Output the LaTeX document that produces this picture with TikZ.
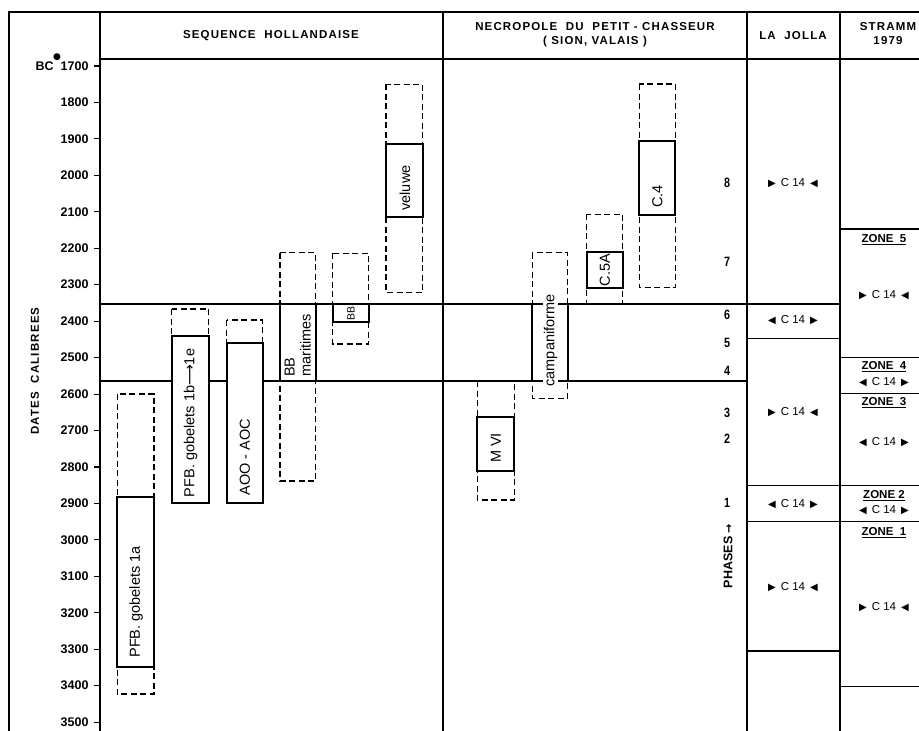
\documentclass[tikz,border=0pt]{standalone}
\usepackage{fontspec}
\setmainfont{Liberation Sans}
\newfontfamily\djf{DejaVu Sans}
\newcommand\hdrfont{\fontsize{11.5}{14}\selectfont\bfseries\addfontfeature{LetterSpace=10}}
\newcommand\numfont{\fontsize{12.5}{14}\selectfont\bfseries}
\newcommand\lblfont{\fontsize{14.5}{16}\selectfont}
\newcommand\cfont{\fontsize{11.5}{13}\selectfont}
\newcommand\trR{{\djf\fontsize{10}{10}\selectfont ▶}}
\newcommand\trL{{\djf\fontsize{10}{10}\selectfont ◀}}
\newcommand\cRL{\trR\hspace{5pt}C 14\hspace{5pt}\trL}
\newcommand\cLR{\trL\hspace{5pt}C 14\hspace{5pt}\trR}
\begin{document}
\begin{tikzpicture}[x=1pt,y=-1pt,
  frame/.style={line width=1.1pt},
  hline/.style={line width=1.7pt},
  sol/.style={draw, line width=1.9pt, fill=white},
  dsh/.style={draw, line width=1.3pt, dash pattern=on 6pt off 3.5pt},
  lbl/.style={font=\lblfont, rotate=90, fill=white, inner sep=1pt},
  hdr/.style={font=\hdrfont, align=center},
  yr/.style={font=\numfont, anchor=east},
  ph/.style={font=\fontsize{13.5}{14}\selectfont\bfseries, xscale=0.8},
  c14/.style={font=\cfont},
  zone/.style={font=\cfont\bfseries}]
\useasboundingbox (0,0) rectangle (919,731);
% frame
\draw[frame] (9,731) -- (9,12) -- (919,12);
\draw[frame] (100,12) -- (100,731);
\draw[frame] (443,12) -- (443,731);
\draw[frame] (747,12) -- (747,731);
\draw[frame] (840,12) -- (840,731);
\draw[frame] (100,59) -- (919,59);
% headers
\node[hdr] (hSeq) at (271,36) {SEQUENCE\ \ HOLLANDAISE};
\node[hdr] (hNec) at (595,35) {NECROPOLE\ \ DU\ \ PETIT - CHASSEUR\\( SION, VALAIS )};
\node[hdr] (hLJ) at (793,36) {LA\ \ JOLLA};
\node[hdr] (hSt) at (888,34) {STRAMM\\1979};
% axis ticks and labels
\foreach \yv [count=\i from 0] in {1700,1800,...,3500} {
  \pgfmathsetmacro\yy{66+\i*36.45}
  \draw[frame] (94,\yy) -- (100,\yy);
  \node[yr] (y\yv) at (92,\yy) {\yv};
}
\node[font=\numfont, anchor=east] (bc) at (y1700.west) {BC};
\node[font=\djf\fontsize{9}{9}\selectfont, inner sep=0pt] (bcstar) at (57,57) {●};
\node[hdr, rotate=90] (dates) at (35,371) {DATES\ \ CALIBREES};
% main horizontal lines
\draw[hline] (100,304) -- (840,304);
\draw[hline] (100,381) -- (747,381);
% La Jolla
\foreach \yy in {338.7,485.7,521.7,651} \draw[frame] (747,\yy) -- (840,\yy);
\node[c14] (lj8) at (793,182.7) {\cRL};
\node[c14] (lj6) at (793,320) {\cLR};
\node[c14] (lj3) at (793,411.7) {\cRL};
\node[c14] (lj1) at (793,504) {\cLR};
\node[c14] (lj0) at (793,587) {\cRL};
% Stramm
\foreach \yy in {229,357.5,393.3,485.7,521.7,686.7} \draw[frame] (840,\yy) -- (919,\yy);
\node[zone] (z5) at (884,240) {\underline{ZONE\ \ 5}};
\node[c14] (s5) at (884,295) {\cRL};
\node[zone] (z4) at (884,366.5) {\underline{ZONE\ \ 4}};
\node[c14] (s4) at (884,382.5) {\cLR};
\node[zone] (z3) at (884,403) {\underline{ZONE\ \ 3}};
\node[c14] (s3) at (884,442) {\cLR};
\node[zone] (z2) at (884,495.5) {\underline{ZONE 2}};
\node[c14] (s2) at (884,510) {\cLR};
\node[zone] (z1) at (884,533) {\underline{ZONE\ \ 1}};
\node[c14] (s1) at (884,606.7) {\cRL};
% phases
\node[ph] (p8) at (727,183) {8};
\node[ph] (p7) at (727,261.7) {7};
\node[ph] (p6) at (727,315) {6};
\node[ph] (p5) at (727,342.7) {5};
\node[ph] (p4) at (727,371) {4};
\node[ph] (p3) at (727,412.7) {3};
\node[ph] (p2) at (727,439) {2};
\node[ph] (p1) at (727,503.3) {1};
\node[font=\numfont, rotate=90] (phases) at (728,556) {PHASES {\djf\bfseries\fontsize{11}{11}\selectfont →}};
% dashed ranges
\draw[dsh] (117.3,394) rectangle (154,694);
\draw[dsh] (171.7,309) rectangle (208.7,502.7);
\draw[dsh] (226.7,320) rectangle (262.7,503.3);
\draw[dsh] (280,252.7) rectangle (315.7,481);
\draw[dsh] (332.7,253.3) rectangle (368.7,344);
\draw[dsh] (386,84.3) rectangle (422.7,292.3);
\draw[dsh] (477.3,381) rectangle (514.3,500);
\draw[dsh] (532.3,252.7) rectangle (567.7,398.3);
\draw[dsh] (586.7,214.3) rectangle (622.7,304);
\draw[dsh] (639.3,84) rectangle (675.3,287.7);
% solid ranges
\draw[sol] (117.3,497.3) rectangle (154,666.7);
\draw[sol] (171.7,336) rectangle (208.7,502.7);
\draw[sol] (226.7,342.7) rectangle (262.7,503.3);
\draw[sol] (280,304) rectangle (315.7,381);
\draw[sol] (332.7,304) rectangle (368.7,322.3);
\draw[sol] (386,144.3) rectangle (422.7,216.7);
\draw[sol] (477.3,416.7) rectangle (514.3,471);
\draw[sol] (532.3,304) rectangle (567.7,381);
\draw[sol] (586.7,251.7) rectangle (622.7,288.3);
\draw[sol] (639.3,141) rectangle (675.3,215.3);
% labels
\node[lbl] (lPFBa) at (136,602) {PFB.\ gobelets 1a};
\node[lbl] (lPFBb) at (190.5,423) {PFB.\ gobelets 1b{\djf ⟶}1e};
\node[lbl] (lAOO) at (245,457) {AOO - AOC};
\node[lbl, align=left, anchor=south west, fill=none] (lBBm) at (312,378) {BB\\maritimes};
\node[lbl, font=\fontsize{10.5}{11}\selectfont, inner sep=0.3pt] (lBB) at (351,313) {BB};
\node[lbl] (lvel) at (405,188) {veluwe};
\node[lbl] (lMVI) at (496,448) {M VI};
\node[lbl] (lcamp) at (550.5,340.5) {campaniforme};
\node[lbl] (lC5A) at (605,270) {C.5A};
\node[lbl] (lC4) at (657.5,196.7) {C.4};
\end{tikzpicture}
\end{document}
